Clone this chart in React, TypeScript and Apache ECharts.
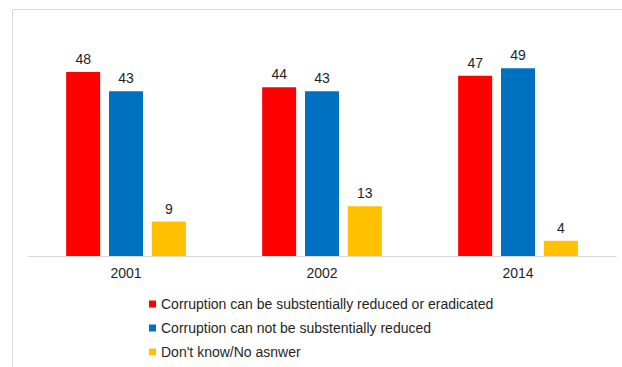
import React, { useEffect, useRef } from "react";
import * as echarts from "echarts";

const categories = ["2001", "2002", "2014"];
const seriesNames = [
  "Corruption can be substentially reduced or eradicated",
  "Corruption can not be substentially reduced",
  "Don't know/No asnwer",
];
const reducible = [48, 44, 47];
const notReducible = [43, 43, 49];
const dontKnow = [9, 13, 4];
const colors = ["#ff0000", "#0070c0", "#ffc000"];

export default function App() {
  const ref = useRef<HTMLDivElement>(null);
  useEffect(() => {
    if (!ref.current) return;
    const chart = echarts.init(ref.current, undefined, { renderer: "svg" });
    const font = "'Liberation Sans', Arial, sans-serif";
    const values = [reducible, notReducible, dontKnow];
    chart.setOption({
      animation: false,
      textStyle: { fontFamily: font },
      graphic: [
        { type: "line", shape: { x1: 12.5, y1: 9.5, x2: 622, y2: 9.5 }, style: { stroke: "#d9d9d9", lineWidth: 1 } },
        { type: "line", shape: { x1: 12.5, y1: 9.5, x2: 12.5, y2: 367 }, style: { stroke: "#d9d9d9", lineWidth: 1 } },
      ],
      grid: { left: 28, right: 6, top: 26, bottom: 111, containLabel: false },
      legend: {
        orient: "vertical",
        left: 149,
        top: 297,
        padding: 0,
        itemWidth: 7,
        itemHeight: 7,
        itemGap: 10,
        icon: "rect",
        textStyle: { fontSize: 14, color: "#1f1f1f", fontFamily: font },
        data: seriesNames,
      },
      xAxis: {
        type: "category",
        data: categories,
        axisLine: { lineStyle: { color: "#d9d9d9" } },
        axisTick: { show: false },
        axisLabel: { fontSize: 14, color: "#1f1f1f", margin: 10, fontFamily: font },
      },
      yAxis: {
        type: "value",
        min: 0,
        max: 60,
        show: false,
        splitLine: { show: false },
      },
      series: seriesNames.map((name, i) => ({
        name,
        type: "bar",
        data: values[i],
        barWidth: 34,
        barGap: "26%",
        itemStyle: { color: colors[i] },
        label: {
          show: true,
          position: "top",
          distance: 6,
          fontSize: 14,
          color: "#1f1f1f",
          fontFamily: font,
        },
      })),
    });
    return () => chart.dispose();
  }, []);
  return (
    <div
      ref={ref}
      style={{ position: "fixed", left: 0, top: 0, width: 622, height: 367, background: "#fff" }}
    />
  );
}
